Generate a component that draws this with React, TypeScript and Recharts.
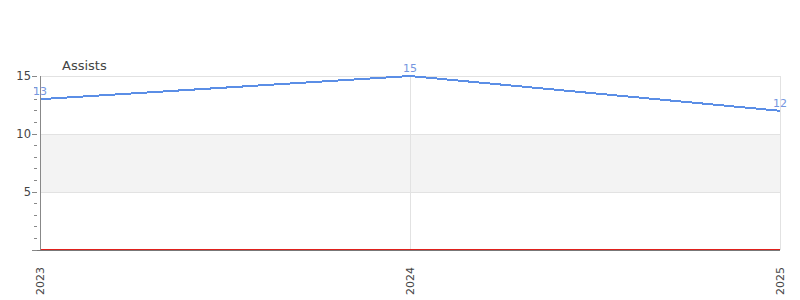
import { LineChart, Line, XAxis, YAxis, ReferenceArea, ReferenceLine, LabelList } from "recharts"

const years = ["2023", "2024", "2025"]
const assists = [13, 15, 12]
const yTicks = [0, 1, 2, 3, 4, 5, 6, 7, 8, 9, 10, 11, 12, 13, 14, 15]
const labeledTicks = [5, 10, 15]

const data = years.map((year, i) => ({ year, assists: assists[i] }))

const FONT = "DejaVu Sans, sans-serif"

function YTick(props: any) {
  const { x, y, payload } = props
  const major = payload.value % 5 === 0
  const len = major ? 5 : 3
  return (
    <g>
      <line x1={x + 5 - len} x2={x + 5} y1={y} y2={y} stroke="#888" shapeRendering="crispEdges" />
      {labeledTicks.includes(payload.value) && (
        <text x={x - 1} y={y} dy={4} textAnchor="end" fontSize={11.5} fill="#444" fontFamily={FONT}>
          {payload.value}
        </text>
      )}
    </g>
  )
}

function XTick(props: any) {
  const { x, y, payload } = props
  return (
    <text
      x={x}
      y={y}
      transform={`rotate(-90, ${x}, ${y})`}
      dx={-9}
      dy={4}
      textAnchor="end"
      fontSize={11}
      fill="#444"
      fontFamily={FONT}
    >
      {payload.value}
    </text>
  )
}

// baseline: red zero line sitting just above the grey axis line
const ZeroLine = (props: any) => {
  const { x1, x2, y1 } = props
  return (
    <g>
      <line x1={x1} x2={x2} y1={y1 - 1} y2={y1 - 1} stroke="#e0201c" strokeWidth={1} shapeRendering="crispEdges" />
      <line x1={x1 - 5} x2={x2} y1={y1} y2={y1} stroke="#777" strokeWidth={1} shapeRendering="crispEdges" />
    </g>
  )
}

export default function App() {
  return (
    <div style={{ position: "fixed", left: 0, top: 0, width: 800, height: 300, background: "#fff" }}>
      <LineChart width={800} height={300} data={data} margin={{ top: 76, right: 20, left: 0, bottom: 20 }}>
        <text x={62} y={70} fontSize={13} fill="#444" fontFamily={FONT}>
          Assists
        </text>
        <ReferenceArea y1={5} y2={10} fill="#f3f3f3" fillOpacity={1} stroke="none" />
        {labeledTicks.map((v) => (
          <ReferenceLine key={v} y={v} stroke="#e2e2e2" shapeRendering="crispEdges" />
        ))}
        <ReferenceLine x="2024" stroke="#e2e2e2" shapeRendering="crispEdges" />
        <ReferenceLine x="2025" stroke="#e2e2e2" shapeRendering="crispEdges" />
        <XAxis dataKey="year" height={30} tickLine={false} axisLine={false} tick={<XTick />} interval={0} />
        <YAxis
          width={40}
          domain={[0, 15]}
          ticks={yTicks}
          interval={0}
          tickLine={false}
          tick={<YTick />}
          axisLine={{ stroke: "#888", shapeRendering: "crispEdges" }}
        />
        <ReferenceLine y={0} stroke="#e0201c" shape={ZeroLine} />
        <Line
          dataKey="assists"
          type="linear"
          stroke="#5b8ee6"
          strokeWidth={2}
          dot={false}
          shapeRendering="crispEdges"
          isAnimationActive={false}
        >
          <LabelList dataKey="assists" position="top" offset={4} fontSize={11} fill="#7496e0" fontFamily={FONT} />
        </Line>
      </LineChart>
    </div>
  )
}
